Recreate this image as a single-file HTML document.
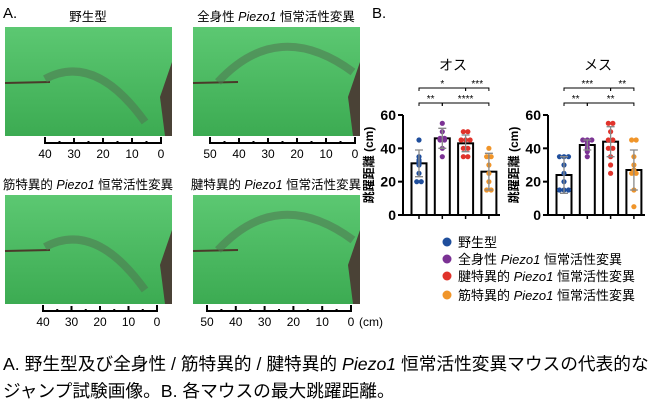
<!DOCTYPE html>
<html><head><meta charset="utf-8"><style>
body{margin:0;background:#fff;width:650px;height:409px;overflow:hidden;font-family:"Liberation Sans","Noto Sans CJK JP",sans-serif}
svg text{font-family:"Liberation Sans","Noto Sans CJK JP",sans-serif}
</style></head><body>
<svg id="s" width="650" height="409">
<defs>
<linearGradient id="g" x1="0" y1="0" x2="0" y2="1"><stop offset="0" stop-color="#5cc872"/><stop offset="1" stop-color="#3cab52"/></linearGradient>
</defs>
<text x="3" y="18" font-size="15">A.</text>
<text x="372" y="18" font-size="15">B.</text>
<g id="photos"></g>
<g id="charts"></g>
<g>
<circle cx="447" cy="242" r="4.5" fill="#1f4e9c"/><text x="458" y="247" font-size="13">野生型</text>
<circle cx="447" cy="259" r="4.5" fill="#7b3294"/><text x="458" y="264" font-size="13">全身性 <tspan font-style="italic">Piezo1</tspan> 恒常活性変異</text>
<circle cx="447" cy="276" r="4.5" fill="#e0332b"/><text x="458" y="281" font-size="13">腱特異的 <tspan font-style="italic">Piezo1</tspan> 恒常活性変異</text>
<circle cx="447" cy="295" r="4.5" fill="#f0952a"/><text x="458" y="300" font-size="13">筋特異的 <tspan font-style="italic">Piezo1</tspan> 恒常活性変異</text>
</g>
<text x="3" y="370" font-size="17.7">A. 野生型及び全身性 / 筋特異的 / 腱特異的 <tspan font-style="italic">Piezo1</tspan> 恒常活性変異マウスの代表的な</text>
<text x="3" y="397" font-size="17.7">ジャンプ試験画像。B. 各マウスの最大跳躍距離。</text>
</svg>
<script>
const NS="http://www.w3.org/2000/svg";
function mk(p,t,a,txt){const e=document.createElementNS(NS,t);for(const k in a)e.setAttribute(k,a[k]);if(txt!==undefined)e.textContent=txt;p.appendChild(e);return e;}
const photos=document.getElementById('photos');
const panels=[
 {x:5,y:27,t:"野生型",ticks:[40,30,20,10,0],x0:45,x1:161,arc:0},
 {x:193,y:27,t:"全身性 |Piezo1| 恒常活性変異",ticks:[50,40,30,20,10,0],x0:210,x1:355,arc:1},
 {x:5,y:195,t:"筋特異的 |Piezo1| 恒常活性変異",ticks:[40,30,20,10,0],x0:43,x1:157,arc:0},
 {x:193,y:195,t:"腱特異的 |Piezo1| 恒常活性変異",ticks:[50,40,30,20,10,0],x0:207,x1:351,arc:1}];
panels.forEach((p,i)=>{
 const g=mk(photos,'g',{});
 
 
 mk(g,'rect',{x:p.x,y:p.y,width:167,height:109,fill:'url(#g)'});
 mk(g,'line',{x1:p.x,y1:p.y+56,x2:p.x+45,y2:p.y+55,stroke:'#4a3a2a','stroke-width':2});
 const d=p.arc?`M${p.x+25} ${p.y+55} Q${p.x+85} ${p.y-10} ${p.x+160} ${p.y+45}`:`M${p.x+40} ${p.y+52} Q${p.x+90} ${p.y+25} ${p.x+140} ${p.y+95}`;
 mk(g,'path',{d:d,stroke:'#4f7a52','stroke-width':8,fill:'none',opacity:0.6});
 mk(g,'path',{d:`M${p.x+167} ${p.y+35} L${p.x+155} ${p.y+70} L${p.x+160} ${p.y+109} L${p.x+167} ${p.y+109}Z`,fill:'#4a4236'});
 const tt=mk(g,'text',{x:p.x+83,y:p.y-6,'font-size':12.5,'text-anchor':'middle'});
 p.t.split('|').forEach((s,j)=>mk(tt,'tspan',j==1?{'font-style':'italic'}:{},s));
 const sy=p.y+116;
 mk(g,'path',{d:`M${p.x0} ${sy-6}V${sy}H${p.x1}V${sy-6}`,stroke:'#000','stroke-width':2,fill:'none'});
 const n=(p.ticks.length-1)*2;
 for(let k=1;k<n;k++){const xx=p.x0+(p.x1-p.x0)*k/n;mk(g,'line',{x1:xx,y1:sy,x2:xx,y2:sy-(k%2?2:5),stroke:'#000','stroke-width':2});}
 p.ticks.forEach((v,k)=>mk(g,'text',{x:p.x0+(p.x1-p.x0)*k/(p.ticks.length-1),y:sy+15,'font-size':12,'text-anchor':'middle'},v));
 if(i==3) mk(g,'text',{x:p.x1+8,y:sy+15,'font-size':12},'(cm)');
});

// chart data
const groups=["野生型","全身性","腱特異的","筋特異的"];
const colors=["#1f4e9c","#7b3294","#e0332b","#f0952a"];
const maleMeans=[31,46,43,26];
const maleSD=[8,6,5,11];
const malePts=[[45,35,33,32,31,30,25,20,20],[55,50,46,46,45,45,40,35],[50,50,45,45,45,40,40,35,35],[40,35,35,30,25,20,15,15]];
const femaleMeans=[24,42,44,27];
const femaleSD=[11,3,9,12];
const femalePts=[[35,35,35,30,25,20,15,15,15],[45,45,45,44,43,42,40,38,35],[55,55,50,45,45,40,40,35,30,25],[45,45,35,30,27,25,25,15,5]];
const yTicks=[0,20,40,60];

const charts=document.getElementById('charts');
function chart(name,title,ax,means,sd,pts,sig){
 const g=mk(charts,'g',{});
 
 
 const y=v=>215-v*100/60;
 const bx=i=>ax+16+i*23.3;
 mk(g,'text',{x:ax+50,y:70,'font-size':14,'text-anchor':'middle'},title);
 mk(g,'line',{x1:ax,y1:y(60),x2:ax,y2:216,stroke:'#000','stroke-width':2});
 mk(g,'line',{x1:ax-1,y1:215,x2:ax+97,y2:215,stroke:'#000','stroke-width':2});
 yTicks.forEach(v=>{mk(g,'line',{x1:ax-5,y1:y(v),x2:ax,y2:y(v),stroke:'#000','stroke-width':2});
  mk(g,'text',{x:ax-7,y:y(v)+5,'font-size':14,'font-weight':'bold','text-anchor':'end'},v);});
 const yl=mk(g,'text',{x:ax-30,y:165,'font-size':12,'font-weight':'bold','text-anchor':'middle',transform:`rotate(-90 ${ax-30} 165)`},'跳躍距離 (cm)');
 
 means.forEach((m,i)=>{
  const cx=bx(i);
  const b=mk(g,'rect',{x:cx-7.5,y:y(m),width:15,height:215-y(m),fill:'#fff',stroke:'#000','stroke-width':2});
  
  mk(g,'line',{x1:cx,y1:215,x2:cx,y2:219,stroke:'#000','stroke-width':1.5});
  pts[i].forEach((v,k)=>{
   const same=pts[i].filter(u=>u==v);const idx=pts[i].slice(0,k).filter(u=>u==v).length;
   const off=(idx-(same.length-1)/2)*4.5;
   mk(g,'circle',{cx:cx+off,cy:y(v),r:2.6,fill:colors[i]});
  });
  mk(g,'path',{d:`M${cx} ${y(m+sd[i])}V${y(m-sd[i])}M${cx-4} ${y(m+sd[i])}h8M${cx-4} ${y(m-sd[i])}h8`,stroke:'#888','stroke-width':1.3});
 });
 sig.forEach(s=>{const yy=s[2];mk(g,'path',{d:`M${bx(s[0])} ${yy+3}V${yy}H${bx(s[1])}V${yy+3}`,stroke:'#000','stroke-width':1,fill:'none'});
  mk(g,'text',{x:(bx(s[0])+bx(s[1]))/2,y:yy-1,'font-size':10,'text-anchor':'middle'},s[3]);});
}
chart('male-chart','オス',403,maleMeans,maleSD,malePts,[[0,2,88,'*'],[2,3,88,'***'],[0,1,103,'**'],[1,3,103,'****']]);
chart('female-chart','メス',548,femaleMeans,femaleSD,femalePts,[[0,2,88,'***'],[2,3,88,'**'],[0,1,103,'**'],[1,3,103,'**']]);
</script>
</body></html>
